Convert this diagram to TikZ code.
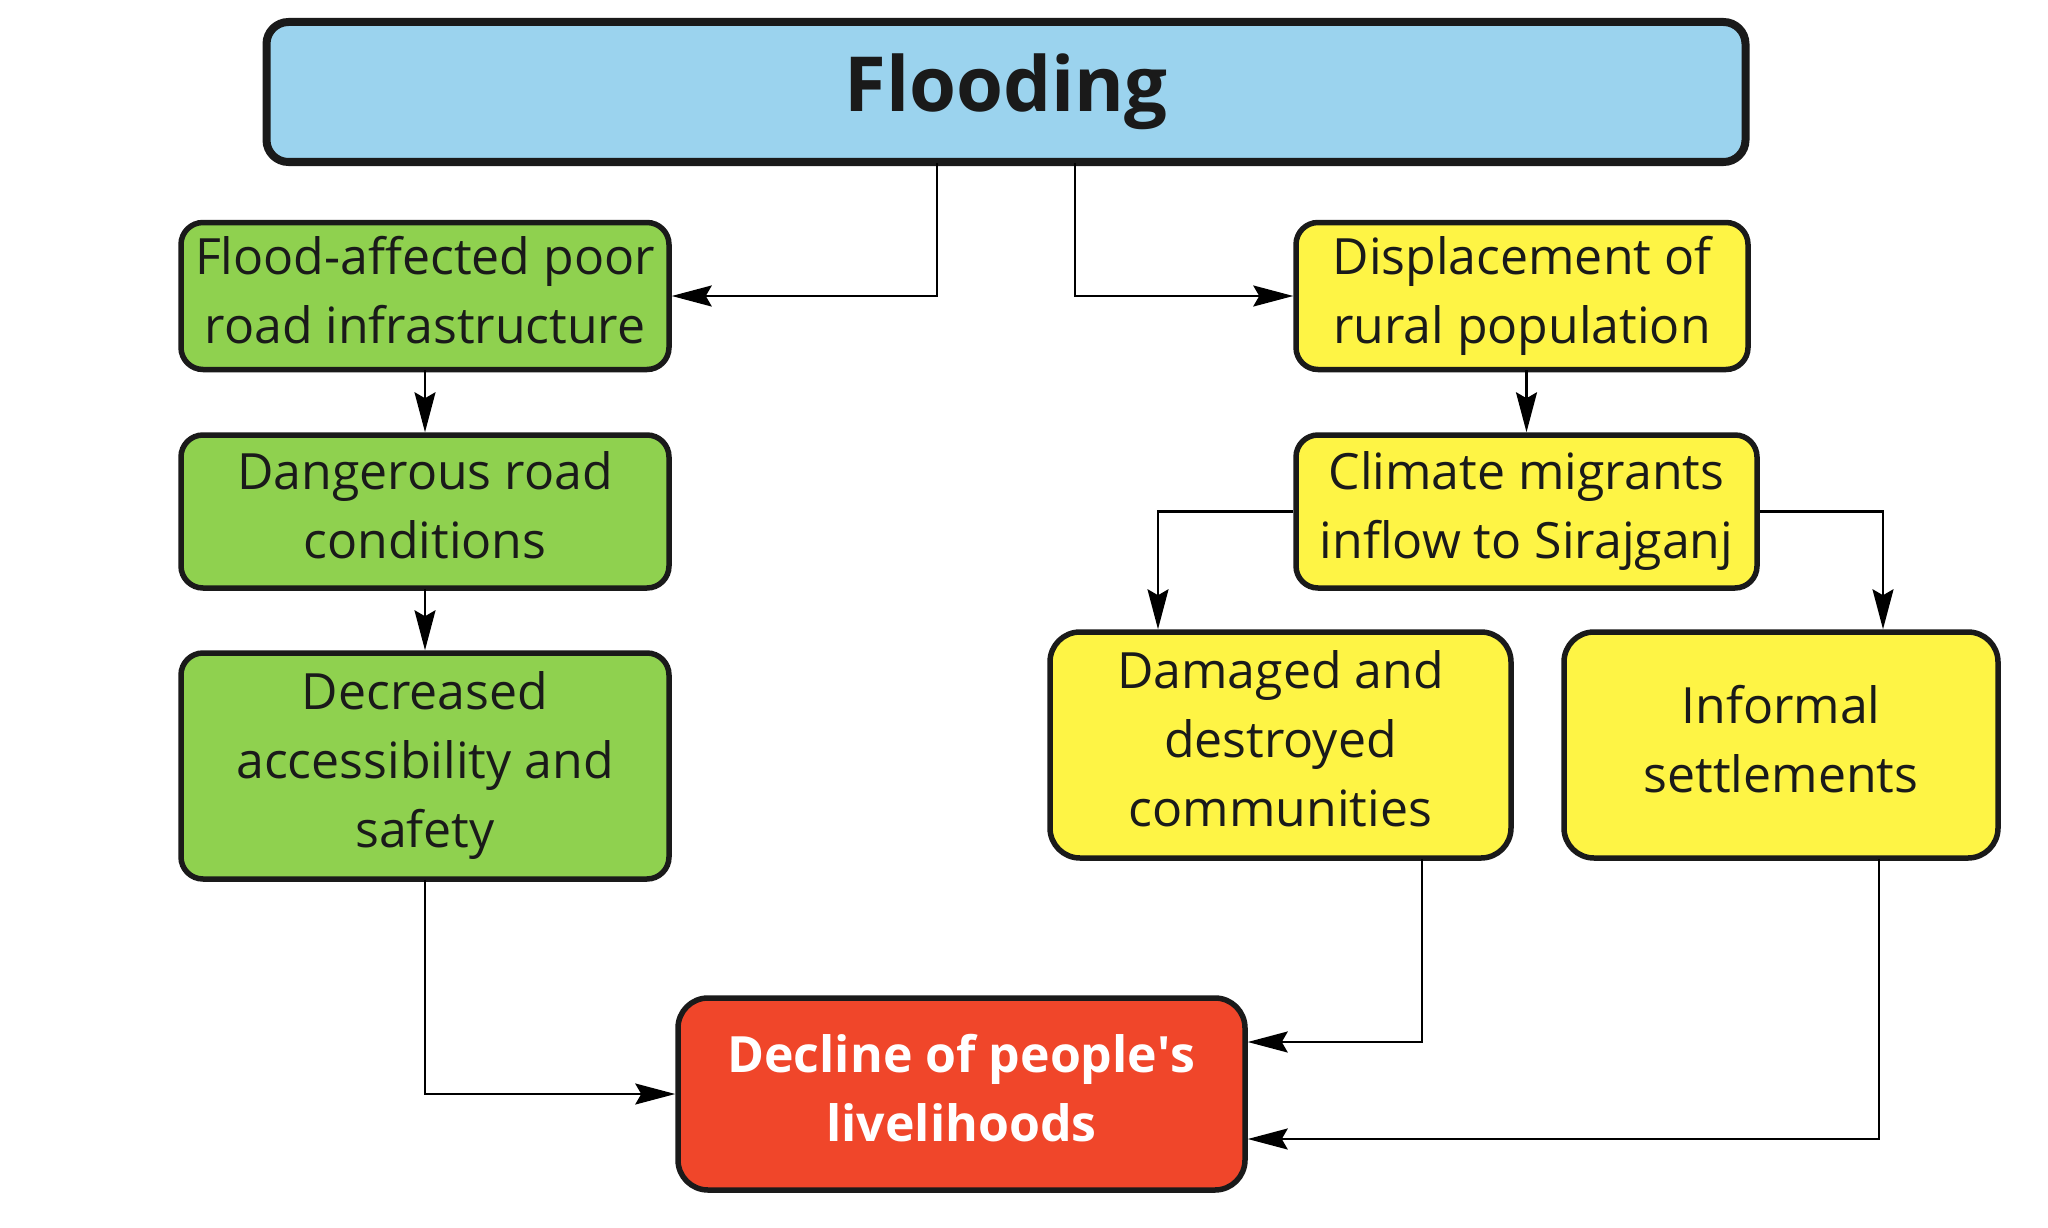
\documentclass[tikz,border=0pt]{standalone}
\usepackage{fontspec}
\setmainfont{Open Sans}
\usetikzlibrary{arrows.meta}
\definecolor{bluef}{HTML}{9BD3EE}
\definecolor{greenf}{HTML}{8FD14F}
\definecolor{yellowf}{HTML}{FEF445}
\definecolor{redf}{HTML}{F0462A}
\definecolor{ink}{HTML}{1A1A1A}
\newcommand{\mydesc}{\vphantom{p}}
\tikzset{
  box/.style={draw=ink, line width=5.5pt, rounded corners=22pt, align=center, inner sep=0pt,
    text=ink, font=\fontsize{50}{69}\selectfont},
  gbox/.style={box, fill=greenf},
  ybox/.style={box, fill=yellowf},
  arr/.style={draw=black, line width=2.4pt,
    -{Stealth[length=40pt,width=21pt,inset=6pt]}},
}
\begin{document}
\begin{tikzpicture}[x=1pt,y=-1pt]
\useasboundingbox[fill=white] (0,0) rectangle (2048,1228);

\node[box, fill=bluef, line width=8pt, minimum width=1479pt, minimum height=140pt,
  font=\fontsize{76}{90}\selectfont\bfseries] (flood) at (1006,92) {Flooding};

\node[gbox, minimum width=488pt, minimum height=147pt] (g1) at (425,296)
  {Flood-affected poor\\road infrastructure\mydesc};
\node[gbox, minimum width=488pt, minimum height=153pt] (g2) at (425,511.5)
  {Dangerous road\\conditions\mydesc};
\node[gbox, minimum width=488pt, minimum height=226pt] (g3) at (425,766)
  {Decreased\\accessibility and\\safety};

\node[ybox, minimum width=452pt, minimum height=147pt] (y1) at (1522,296)
  {Displacement of\\rural population};
\node[ybox, minimum width=461pt, minimum height=153pt] (y2) at (1526.5,511.5)
  {Climate migrants\\inflow to Sirajganj};
\node[ybox, minimum width=461pt, minimum height=226pt, rounded corners=30pt] (y3) at (1280.5,745)
  {Damaged and\\destroyed\\communities\mydesc};
\node[ybox, minimum width=434pt, minimum height=226pt, rounded corners=30pt] (y4) at (1781,745)
  {Informal\\settlements\mydesc};

\node[box, fill=redf, minimum width=567pt, minimum height=192pt, rounded corners=30pt,
  text=white, font=\fontsize{50}{69}\selectfont\bfseries] (red) at (961.5,1094)
  {Decline of people\textquotesingle s\\livelihoods\mydesc};

\coordinate (f1) at (937,0);
\coordinate (f2) at (1075,0);
\coordinate (c3) at (1158,0);
\coordinate (c4) at (1883,0);
\coordinate (c5) at (1422,1042);
\coordinate (c6) at (1879,1139);

\draw[arr] ([yshift=3pt]flood.south -| f1) |- (g1.east);
\draw[arr] ([yshift=3pt]flood.south -| f2) |- (y1.west);
\draw[arr] ([yshift=2pt]g1.south) -- (g2.north);
\draw[arr] ([yshift=2pt]g2.south) -- (g3.north);
\draw[arr] ([yshift=2pt]g3.south) |- (red.west);
\draw[arr] ([yshift=2pt]y2.north |- y1.south) -- (y2.north);
\draw[arr] (y2.west) -| (y3.north -| c3);
\draw[arr] (y2.east) -| (y4.north -| c4);
\draw[arr] ([yshift=2pt]y3.south -| c5) |- (red.east |- c5);
\draw[arr] ([yshift=2pt]y4.south -| c6) |- (red.east |- c6);
\end{tikzpicture}
\end{document}
